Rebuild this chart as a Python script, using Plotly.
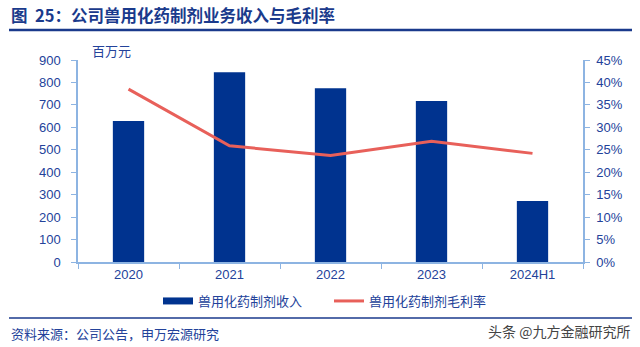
import plotly.graph_objects as go

categories = ["2020", "2021", "2022", "2023", "2024H1"]
revenue = [628, 845, 774, 717, 272]          # 百万元
margin = [0.385, 0.259, 0.237, 0.269, 0.242]  # 毛利率

left_ticks = [0, 100, 200, 300, 400, 500, 600, 700, 800, 900]
right_ticks = [0, 0.05, 0.10, 0.15, 0.20, 0.25, 0.30, 0.35, 0.40, 0.45]
right_labels = ["0%", "5%", "10%", "15%", "20%", "25%", "30%", "35%", "40%", "45%"]

NAVY = "#00338F"
TEXT = "#23429A"
AXIS = "#8DB4E2"
RED = "#E8605A"
CJK = "Noto Sans CJK SC"
NUM = "Liberation Sans, Arial, sans-serif"

W, H = 640, 347
L, R, T, B = 78, 583, 60, 262

def px(x):
    return (x - L) / (R - L)

def py(y):
    return (B - y) / (B - T)

fig = go.Figure()
fig.add_trace(go.Bar(
    x=categories, y=revenue, name="兽用化药制剂收入",
    marker=dict(color=NAVY, line=dict(width=0)),
    yaxis="y", showlegend=False,
))
# legend entry for the bars (wide rectangle symbol like the reference)
fig.add_trace(go.Scatter(
    x=[None], y=[None], name="兽用化药制剂收入",
    mode="lines", line=dict(color=NAVY, width=7),
    yaxis="y", showlegend=True,
))
fig.add_trace(go.Scatter(
    x=categories, y=margin, name="兽用化药制剂毛利率",
    mode="lines", line=dict(color=RED, width=3),
    yaxis="y2",
))

fig.update_layout(
    width=W, height=H,
    margin=dict(l=L, r=W - R, t=T, b=H - B, pad=0),
    paper_bgcolor="white", plot_bgcolor="white",
    bargap=0.69,
    showlegend=True,
    legend=dict(
        orientation="h", x=px(158), y=py(301), xanchor="left", yanchor="middle",
        font=dict(family=CJK, size=13, color=TEXT),
        itemwidth=30, entrywidth=126, tracegroupgap=0, bgcolor="rgba(0,0,0,0)",
    ),
    xaxis=dict(
        type="category", range=[-0.5, 4.5],
        showline=True, linecolor=AXIS, linewidth=1.5,
        ticks="outside", tickson="boundaries", ticklen=5, tickcolor=AXIS,
        tickfont=dict(family=NUM, size=13, color=TEXT),
        showgrid=False, zeroline=False,
    ),
    yaxis=dict(
        range=[0, 900], tickvals=left_ticks,
        showline=True, linecolor=AXIS, linewidth=1.5,
        ticks="outside", ticklen=5, tickcolor=AXIS,
        ticklabelstandoff=8,
        tickfont=dict(family=NUM, size=13, color=TEXT),
        showgrid=False, zeroline=False,
    ),
    yaxis2=dict(
        overlaying="y", side="right",
        range=[0, 0.45], tickvals=right_ticks, ticktext=right_labels,
        showline=True, linecolor=AXIS, linewidth=1.5,
        ticks="outside", ticklen=5, tickcolor=AXIS,
        ticklabelstandoff=4,
        tickfont=dict(family=NUM, size=13, color=TEXT),
        showgrid=False, zeroline=False,
    ),
)

# Title
fig.add_annotation(
    text="<b>图\u00a0\u00a025：公司兽用化药制剂业务收入与毛利率</b>",
    xref="paper", yref="paper", x=px(9), y=py(15),
    xanchor="left", yanchor="middle", showarrow=False,
    font=dict(family=CJK, size=16.5, color="#1A3A8C"),
)
# unit label
fig.add_annotation(
    text="百万元", xref="paper", yref="paper", x=px(90), y=py(51),
    xanchor="left", yanchor="middle", showarrow=False,
    font=dict(family=CJK, size=13, color=TEXT),
)
# Footer
fig.add_annotation(
    text="资料来源：公司公告，申万宏源研究", xref="paper", yref="paper",
    x=px(9), y=py(333), xanchor="left", yanchor="middle", showarrow=False,
    font=dict(family=CJK, size=13, color=TEXT),
)
fig.add_annotation(
    text="头条 @九方金融研究所", xref="paper", yref="paper",
    x=px(632), y=py(331), xanchor="right", yanchor="middle", showarrow=False,
    font=dict(family=CJK, size=14, color="#444444"),
)

# Rules
fig.add_shape(type="line", xref="paper", yref="paper",
              x0=px(9), x1=px(632), y0=py(30), y1=py(30),
              line=dict(color="#1A3A8C", width=2.5))
fig.add_shape(type="line", xref="paper", yref="paper",
              x0=px(9), x1=px(632), y0=py(318), y1=py(318),
              line=dict(color="#1A3A8C", width=1.5))

fig.write_html("out.html")
